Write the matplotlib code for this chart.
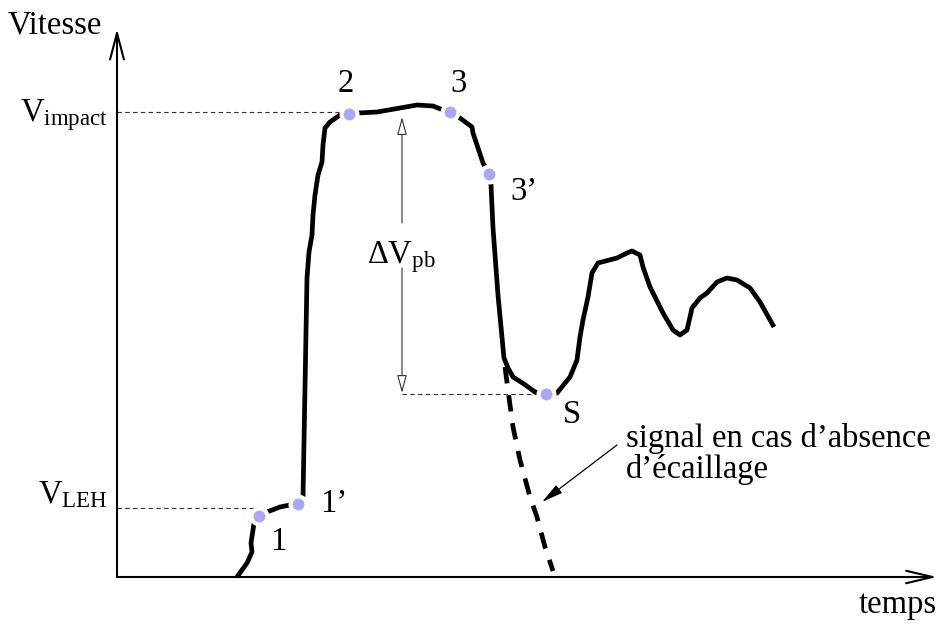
import matplotlib
matplotlib.use("Agg")
import matplotlib.pyplot as plt

plt.rcParams['font.family'] = ['Liberation Serif', 'DejaVu Serif']
plt.rcParams['mathtext.fontset'] = 'custom'
plt.rcParams['mathtext.rm'] = 'Liberation Serif'
plt.rcParams['mathtext.it'] = 'Liberation Serif:italic'
plt.rcParams['mathtext.bf'] = 'Liberation Serif:bold'

# ---- data (schematic units: time t, speed v) ----
temps = [120, 130, 135, 134, 136, 137, 142, 150, 163, 173, 181, 186, 190, 192, 195,
         196, 198, 201, 205, 206, 208, 213, 223, 232, 241, 260, 283, 300, 316, 326,
         333, 343, 355, 356, 366, 372, 374, 376, 381, 386, 387, 391, 396, 407, 418,
         429, 440, 453, 460, 463, 466, 471, 475, 481, 500, 510, 515, 523, 526, 533,
         546, 556, 563, 570, 573, 575, 583, 590, 600, 610, 620, 633, 643, 657]
vitesse = [0, 14, 25, 34, 47, 54, 61, 65, 70, 72, 73, 80, 299, 325, 342,
           362, 382, 402, 415, 432, 449, 455, 462, 463, 464, 465, 469, 472, 471, 467,
           465, 459, 450, 444, 414, 403, 392, 349, 282, 229, 219, 209, 200, 193, 185,
           183, 184, 200, 217, 240, 257, 280, 304, 314, 319, 324, 326, 322, 310, 290,
           264, 247, 242, 247, 260, 269, 279, 284, 295, 299, 297, 289, 275, 250]

temps_sans_ecaillage = [388, 391, 396, 403, 413, 420, 428, 436]
vitesse_sans_ecaillage = [210, 187, 150, 117, 80, 60, 30, 6]

point_labels = ['1', '1’', '2', '3', '3’', 'S']
point_t = [142, 181, 232, 333, 372, 429]
point_v = [61, 73, 463, 465, 403, 183]

v_impact = 465
v_leh = 69
v_spall = 183

fig = plt.figure(figsize=(9.45, 6.24), dpi=100)
ax = fig.add_axes([0, 0, 1, 1])
ax.set_xlim(-117, 828)
ax.set_ylim(-47, 577)
ax.axis('off')

FS = 23.5
dark = '#333333'

# axes with open arrowheads
ax.annotate('', xy=(0, 548), xytext=(0, 0),
            arrowprops=dict(arrowstyle='->,head_length=1.9,head_width=0.5',
                            mutation_scale=10, lw=1.5, color='black',
                            shrinkA=0, shrinkB=0))
ax.annotate('', xy=(820, 0), xytext=(0, 0),
            arrowprops=dict(arrowstyle='->,head_length=1.9,head_width=0.45',
                            mutation_scale=10, lw=1.5, color='black',
                            shrinkA=0, shrinkB=0))

# reference dashed lines
ax.plot([0, 223], [v_impact, v_impact], ls=(0, (4, 3)), lw=0.8, color=dark)
ax.plot([0, 138], [v_leh, v_leh], ls=(0, (4, 3)), lw=0.8, color=dark)
ax.plot([285, 429], [v_spall, v_spall], ls=(0, (4, 3)), lw=0.8, color=dark)

# curves
ax.plot(temps, vitesse, color='black', lw=3.4, solid_joinstyle='round',
        solid_capstyle='butt', zorder=3)
ax.plot(temps_sans_ecaillage, vitesse_sans_ecaillage, color='black', lw=3.4,
        ls=(0, (3.5, 2.5)), zorder=3)

# points
ax.plot(point_t, point_v, ls='none', marker='o', ms=11.5, mfc='#a8a8f8',
        mec='white', mew=2.9, zorder=5)

# delta V arrows (hollow heads)
ax.annotate('', xy=(285, 460), xytext=(285, 354),
            arrowprops=dict(arrowstyle='-|>,head_length=1.1,head_width=0.3',
                            mutation_scale=10, lw=0.8, ec=dark, fc='white',
                            shrinkA=0, shrinkB=0))
ax.annotate('', xy=(285, 184), xytext=(285, 309),
            arrowprops=dict(arrowstyle='-|>,head_length=1.1,head_width=0.3',
                            mutation_scale=10, lw=0.8, ec=dark, fc='white',
                            shrinkA=0, shrinkB=0))

# texts
ax.text(-109, 544, 'Vitesse', fontsize=FS, ha='left', va='baseline')
ax.text(820, -36, 'temps', fontsize=FS, ha='right', va='baseline')
ax.text(-9, 456, r'$\mathrm{V}_{\mathrm{impact}}$', fontsize=FS, ha='right', va='baseline')
ax.text(-9, 74, r'$\mathrm{V}_{\mathrm{LEH}}$', fontsize=FS, ha='right', va='baseline')
ax.text(250, 314, r'$\mathrm{ΔV}_{\mathrm{pb}}$', fontsize=FS, ha='left', va='baseline')

label_pos = {'1': (153, 27, 'left'), '1’': (203, 65, 'left'), '2': (229, 485, 'center'),
             '3': (342, 485, 'center'), '3’': (393, 377, 'left'), 'S': (446, 154, 'left')}
for lab in point_labels:
    x, y, ha = label_pos[lab]
    ax.text(x, y, lab, fontsize=FS, ha=ha, va='baseline')

ax.text(509, 130, 'signal en cas d’absence', fontsize=FS, ha='left', va='baseline')
ax.text(509, 99, 'd’écaillage', fontsize=FS, ha='left', va='baseline')
ax.annotate('', xy=(425, 75), xytext=(500, 132),
            arrowprops=dict(arrowstyle='-|>,head_length=1.3,head_width=0.3',
                            mutation_scale=10, lw=0.9, color='black',
                            shrinkA=0, shrinkB=0))

fig.savefig('out.png', dpi=100)
